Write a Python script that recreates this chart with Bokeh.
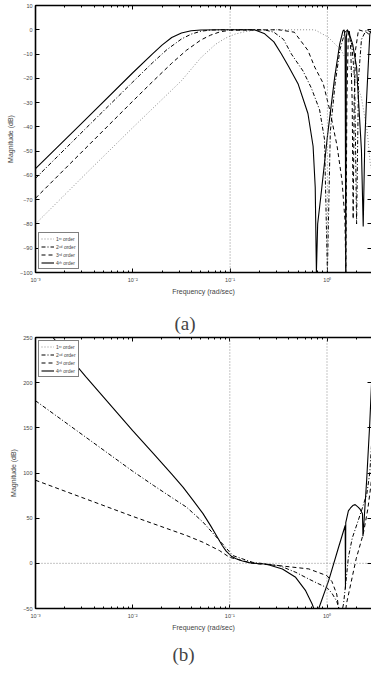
import numpy as np
from bokeh.plotting import figure
from bokeh.layouts import column
from bokeh.models import (LinearAxis, LogAxis, LogTicker, FixedTicker, Span, Legend,
                          LegendItem, Title, Range1d, CustomJSTickFormatter)
from bokeh.embed import file_html
from bokeh.resources import INLINE

# ---------------- data (frequency given as log10 exponent, magnitude in dB) -------------
labels = ["1\u02e2\u1d57 order", "2\u207f\u1d48 order", "3\u02b3\u1d48 order", "4\u1d57\u02b0 order"]

# (a)
a1_exp = [-3, -2.5, -2, -1.5, -1.3, -1.15, -1.05, -0.95, -0.85, -0.75, -0.6, -0.3, -0.13,
          0.007, 0.144, 0.28, 0.35, 0.41, 0.44, 0.497]
a1_db = [-80, -60, -40.3, -21, -11.5, -6, -3.5, -1.8, -0.8, -0.2, 0, 0, 0,
         -3, -8.5, -19.5, -28, -42, -55, -65]

a2_exp = [-3, -2.5, -2, -1.8, -1.65, -1.5, -1.4, -1.3, -1.2, -1.0, -0.65, -0.55, -0.45,
          -0.37, -0.25, -0.165, -0.08, -0.03, 0.0, 0.03, 0.08, 0.13, 0.18, 0.21, 0.25,
          0.28, 0.3, 0.32, 0.35, 0.4, 0.45, 0.497]
a2_db = [-61.2, -41.3, -21.5, -13.7, -8.2, -3.8, -1.8, -0.6, -0.1, 0, 0, -1, -4,
         -10, -17, -24, -33, -45, -100, -42, -22, -8, -1, 0, -6,
         -20, -80, -20, -4, 0, -1, -3]

a3_exp = [-3, -2.5, -2, -1.8, -1.6, -1.45, -1.3, -1.2, -1.1, -1.0, -0.5, -0.34, -0.2,
          -0.13, -0.044, 0.024, 0.1, 0.15, 0.18, 0.19, 0.2, 0.215, 0.225, 0.24, 0.255,
          0.265, 0.275, 0.29, 0.32, 0.4, 0.497]
a3_db = [-69.4, -49.4, -29.4, -21.5, -13.8, -8.5, -4.2, -2.2, -0.8, -0.2, 0, -1, -8.5,
         -15.4, -22, -33, -48, -62, -78, -100, -30, -2, 0, -8, -30,
         -78, -30, -8, 0, -1, -4]

a4_exp = [-3, -2.5, -2, -1.8, -1.7, -1.6, -1.5, -1.4, -1.3, -1.1, -0.75, -0.65, -0.55,
          -0.474, -0.4, -0.302, -0.2, -0.147, -0.125, -0.113, -0.1, -0.06, 0.0, 0.075,
          0.127, 0.16, 0.172, 0.182, 0.189, 0.195, 0.205, 0.22, 0.26, 0.3, 0.35, 0.368,
          0.385, 0.402, 0.436, 0.455, 0.47, 0.497]
a4_db = [-57.2, -37.5, -17.7, -10, -6.3, -3.2, -1.3, -0.4, -0.1, 0, 0, -1.5, -5,
         -9.9, -15, -22.2, -34.5, -48, -65, -100, -80, -66, -44, -19.5,
         -5.8, -0.5, 0, -3, -100, -3, 0, -1, -6, -15.4, -49.6, -81,
         -45, -29, -1.6, 0, -0.5, -5]

# (b)
b1_exp = [-3, 0.497]
b1_db = [0, 0]

b2_exp = [-3, -2.5, -2, -1.786, -1.6, -1.446, -1.276, -1.106, -0.969, -0.765, -0.49, -0.32,
          -0.187, -0.1, 0.0, 0.05, 0.1, 0.13, 0.15, 0.17, 0.2, 0.22, 0.26, 0.32, 0.36,
          0.41, 0.44, 0.469, 0.497]
b2_db = [180, 141, 102, 86.3, 73, 62.2, 45.6, 25.2, 8.6, 1.1, -2.6, -10,
         -17.4, -22, -27, -33, -42, -52, -55, -45, -15, 6.7, 28, 47, 60,
         77, 100, 150, 190]

b3_exp = [-3, -2.5, -2, -1.786, -1.446, -1.276, -1.106, -1.004, -0.765, -0.49, -0.187, 0.0,
          0.05, 0.1, 0.12, 0.15, 0.19, 0.2, 0.25, 0.3, 0.374, 0.42, 0.45, 0.469, 0.497]
b3_db = [92, 72, 52, 43.8, 30.8, 23.3, 14.1, 6.7, 0, -2.6, -6.2, -13.7,
         -20, -34, -50, -60, -55, -45, -20, 5, 33, 60, 85, 105, 130]

b4_exp = [-2.82, -2.483, -2, -1.786, -1.6, -1.48, -1.38, -1.276, -1.2, -1.14, -1.08, -1.038,
          -0.98, -0.935, -0.87, -0.8, -0.7, -0.63, -0.459, -0.323, -0.22, -0.153, -0.136,
          -0.12, -0.1, -0.085, 0.017, 0.119, 0.187, 0.19, 0.193, 0.22, 0.24, 0.265, 0.29,
          0.323, 0.34, 0.365, 0.37, 0.38, 0.408, 0.44, 0.469, 0.497]
b4_db = [250, 206.7, 147, 121.4, 99, 84, 70, 55, 42, 31, 20, 13.5,
         7.5, 5, 2.5, 0.8, -0.5, -0.8, -6.2, -15.5, -30.3, -45, -50,
         -58, -58, -50, -19.2, 17.8, 41.9, -28, 45, 58, 61, 64, 65,
         62, 60, 55, 30, 45, 92, 155, 225, 285]

a_yticks = [10, 0, -10, -20, -30, -40, -50, -60, -70, -80, -90, -100]
b_yticks = [250, 200, 150, 100, 50, 0, -50]
ref_freqs = [0.1, 1.0]

FONT = "Liberation Sans"
STYLES = [dict(line_dash="1 2", line_color="#8a8a8a", line_width=1),
          dict(line_dash="4 2 1 2", line_color="black", line_width=1),
          dict(line_dash="4 3", line_color="black", line_width=1),
          dict(line_dash="solid", line_color="black", line_width=1.1)]

SUP_JS = """
const e = Math.round(Math.log10(tick));
const m = {'-':'\u207b','0':'\u2070','1':'\u00b9','2':'\u00b2','3':'\u00b3','4':'\u2074'};
return '10' + String(e).split('').map(c => m[c]).join('');
"""
MINUS_JS = "return String(tick).replace('-', '\u2212');"
EMPTY_JS = "return '';"


def caption(text, off, standoff):
    return Title(text=text, align="left", offset=off, text_font="Liberation Serif",
                 text_font_size="19px", text_font_style="normal", standoff=standoff)


def make_fig(height, xmax, ylo, yhi, yticks, left, top, bottom, series, legend_loc):
    p = figure(width=371, height=height, x_axis_type="log",
               x_range=Range1d(1e-3, xmax), y_range=Range1d(ylo, yhi),
               output_backend="svg", toolbar_location=None,
               min_border_left=left, min_border_right=0, min_border_top=top,
               min_border_bottom=bottom, background_fill_color="white",
               border_fill_color="white")
    p.outline_line_color = None
    p.grid.visible = False

    xa = p.xaxis[0]
    xa.ticker = LogTicker(num_minor_ticks=10)
    xa.formatter = CustomJSTickFormatter(code=SUP_JS)
    xa.axis_label = "Frequency (rad/sec)"
    ya = p.yaxis[0]
    ya.ticker = FixedTicker(ticks=yticks)
    ya.formatter = CustomJSTickFormatter(code=MINUS_JS)
    ya.axis_label = "Magnitude (dB)"
    for ax in (xa, ya):
        ax.axis_line_width = 1.6
        ax.major_tick_in = 4
        ax.major_tick_out = 0
        ax.minor_tick_in = 2
        ax.minor_tick_out = 0
        ax.major_label_text_font = FONT
        ax.major_label_text_font_size = "5.5px"
        ax.axis_label_text_font = FONT
        ax.axis_label_text_font_size = "7px"
        ax.axis_label_text_font_style = "normal"
    xa.major_label_standoff = 4
    xa.axis_label_standoff = 2
    ya.major_label_standoff = 3
    ya.axis_label_standoff = 3

    ta = LogAxis(ticker=LogTicker(num_minor_ticks=10),
                 formatter=CustomJSTickFormatter(code=EMPTY_JS))
    ta.axis_line_width = 1.6
    ta.major_tick_in, ta.major_tick_out = 4, 0
    ta.minor_tick_in, ta.minor_tick_out = 2, 0
    ta.major_label_standoff = 0
    p.add_layout(ta, "above")
    ra = LinearAxis(ticker=FixedTicker(ticks=yticks),
                    formatter=CustomJSTickFormatter(code=EMPTY_JS))
    ra.axis_line_color = None
    ra.major_tick_in, ra.major_tick_out = 4, 0
    ra.minor_tick_in, ra.minor_tick_out = 0, 0
    ra.major_label_standoff = 0
    p.add_layout(ra, "right")

    for f in ref_freqs:
        p.add_layout(Span(location=f, dimension="height", line_color="#8a8a8a",
                          line_dash="1 2", line_width=1))

    items = []
    for (ex, db), lab, st in zip(series, labels, STYLES):
        r = p.line(10 ** np.array(ex, dtype=float), db, **st)
        items.append(LegendItem(label=lab, renderers=[r]))
    lg = Legend(items=items, location=legend_loc)
    lg.label_text_font = FONT
    lg.label_text_font_size = "5px"
    lg.label_height = 7
    lg.glyph_height = 7
    lg.glyph_width = 13
    lg.label_standoff = 2
    lg.spacing = 1
    lg.padding = 2
    lg.margin = 3
    lg.border_line_color = "black"
    lg.border_line_width = 1
    lg.background_fill_alpha = 1
    p.add_layout(lg)
    return p


pa = make_fig(300, 2.84, -100, 10, a_yticks, 35, 5, 28,
              [(a1_exp, a1_db), (a2_exp, a2_db), (a3_exp, a3_db), (a4_exp, a4_db)],
              "bottom_left")
pb = make_fig(373, 2.87, -50, 250, b_yticks, 31, 37, 65,
              [(b1_exp, b1_db), (b2_exp, b2_db), (b3_exp, b3_db), (b4_exp, b4_db)],
              "top_left")
pb.add_layout(caption("(a)", 139, 8), "above")
pb.add_layout(caption("(b)", 137, 17), "below")

layout = column(pa, pb, spacing=0)
open("out.html", "w").write(file_html(layout, INLINE))
